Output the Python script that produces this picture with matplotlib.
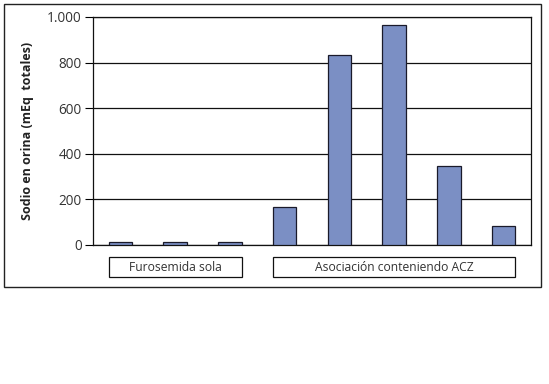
import matplotlib
matplotlib.use('Agg')
import matplotlib.pyplot as plt
from matplotlib.patches import Rectangle
import matplotlib.transforms as mtransforms

plt.rcParams['font.family'] = ['Open Sans', 'DejaVu Sans']

# data
valores = [15, 15, 15, 168, 833, 965, 347, 85]
grupos = ['Furosemida sola', 'Asociación conteniendo ACZ']
grupo_inicio = [0, 3]
grupo_fin = [2, 7]
yticks = [0, 200, 400, 600, 800, 1000]
ytick_labels = ['0', '200', '400', '600', '800', '1.000']

fig = plt.figure(figsize=(5.49, 3.84), dpi=100)

# outer frame
fig.patches.append(Rectangle((4/549, (384-287)/384), 537/549, 283/384,
                             transform=fig.transFigure, fill=False,
                             edgecolor='#222222', linewidth=1.0))

ax = fig.add_axes([93/549, (384-245)/384, 438/549, 228/384])
ancho = 0.43
x = list(range(len(valores)))
ax.bar(x, valores, width=ancho, color='#7b8fc4', edgecolor='#1a1a2a', linewidth=0.9, zorder=3)

ax.set_xlim(-0.5, len(valores) - 0.5)
ax.set_ylim(0, 1000)
ax.set_yticks(yticks)
ax.set_yticklabels(ytick_labels, fontsize=9.8, color='#333333')
ax.set_xticks([])
ax.yaxis.grid(True, color='#111111', linewidth=0.9, zorder=0)
ax.tick_params(axis='y', length=6, width=0.8, pad=2)
for s in ax.spines.values():
    s.set_color('#111111')
    s.set_linewidth(0.9)

ax.set_ylabel('Sodio en orina (mEq  totales)', fontsize=9, fontweight='bold',
              color='#222222', labelpad=9.5)

# group boxes under the axis
trans = mtransforms.blended_transform_factory(ax.transData, ax.transAxes)
for nombre, a, b in zip(grupos, grupo_inicio, grupo_fin):
    x0 = a - ancho / 2
    x1 = b + ancho / 2
    ax.add_patch(Rectangle((x0, -0.14), x1 - x0, 0.087, transform=trans,
                           fill=False, edgecolor='#111111', linewidth=0.9,
                           clip_on=False))
    ax.text((x0 + x1) / 2, -0.097, nombre, transform=trans, ha='center',
            va='center', fontsize=8.7, color='#333333')

fig.savefig('out.png', dpi=100)
